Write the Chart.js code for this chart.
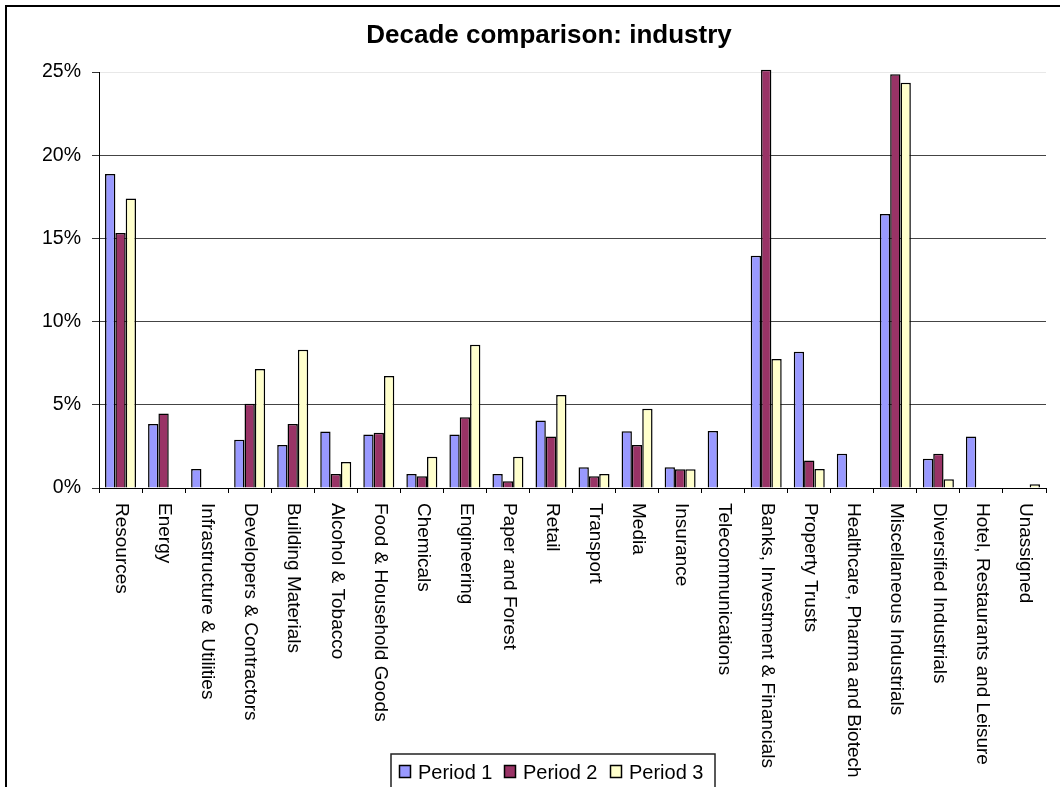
<!DOCTYPE html>
<html>
<head>
<meta charset="utf-8">
<title>Decade comparison: industry</title>
<script src="https://cdn.jsdelivr.net/npm/chart.js@4/dist/chart.umd.min.js"></script>
<style>
  body { margin: 0; background: #fff; }
  canvas { display: block; }
</style>
</head>
<body>
<canvas id="chart" width="1060" height="787"></canvas>
<script>
const TITLE = 'Decade comparison: industry'
const FONT = "'Liberation Sans', Arial, sans-serif"

const industries = [
  'Resources', 'Energy', 'Infrastructure & Utilities', 'Developers & Contractors',
  'Building Materials', 'Alcohol & Tobacco', 'Food & Household Goods', 'Chemicals',
  'Engineering', 'Paper and Forest', 'Retail', 'Transport', 'Media', 'Insurance',
  'Telecommunications', 'Banks, Investment & Financials', 'Property Trusts',
  'Healthcare, Pharma and Biotech', 'Miscellaneous Industrials',
  'Diversified Industrials', 'Hotel, Restaurants and Leisure', 'Unassigned'
]

// share of each industry, in percent
const period1 = [18.87, 3.85, 1.14, 2.90, 2.58, 3.40, 3.22, 0.84, 3.21, 0.84, 4.05,
  1.24, 3.41, 1.24, 3.43, 13.96, 8.19, 2.06, 16.47, 1.76, 3.10, null]
const period2 = [15.32, 4.47, null, 5.07, 3.85, 0.84, 3.32, 0.70, 4.25, 0.40, 3.10,
  0.70, 2.58, 1.12, null, 25.14, 1.66, null, 24.86, 2.06, null, null]
const period3 = [17.40, null, null, 7.15, 8.31, 1.56, 6.73, 1.88, 8.61, 1.88, 5.59,
  0.84, 4.77, 1.12, null, 7.75, 1.14, null, 24.36, 0.52, null, 0.22]

const seriesNames = ['Period 1', 'Period 2', 'Period 3']
const seriesColors = ['#9999ff', '#993366', '#ffffcc']
const yTicks = [0, 5, 10, 15, 20, 25]

function makeSet (i, values) {
  return {
    label: seriesNames[i],
    data: values,
    backgroundColor: seriesColors[i],
    borderColor: '#000',
    borderWidth: 1.5,
    borderSkipped: 'bottom',
    categoryPercentage: 0.72,
    barPercentage: 1,
    clip: false
  }
}

// frame, title, rotated category names and legend box
const decorations = {
  id: 'decorations',
  beforeDraw: chart => {
    const ctx = chart.ctx
    ctx.save()
    ctx.fillStyle = '#fff'
    ctx.fillRect(0, 0, chart.width, chart.height)
    ctx.restore()
  },
  afterDraw: chart => {
    const ctx = chart.ctx
    const xScale = chart.scales.x
    ctx.save()

    ctx.strokeStyle = '#000'
    ctx.lineWidth = 2
    ctx.strokeRect(6, 6, chart.width + 20, chart.height + 20)

    ctx.fillStyle = '#000'
    ctx.font = 'bold 26px ' + FONT
    ctx.textAlign = 'center'
    ctx.textBaseline = 'alphabetic'
    ctx.fillText(TITLE, 549, 43)

    ctx.font = '19px ' + FONT
    ctx.textAlign = 'left'
    ctx.textBaseline = 'middle'
    industries.forEach((name, i) => {
      const x = xScale.getPixelForValue(i)
      ctx.save()
      ctx.translate(x + 1, 503)
      ctx.rotate(Math.PI / 2)
      ctx.fillText(name, 0, 0)
      ctx.restore()
    })

    // legend
    const boxLeft = 391
    const boxTop = 754
    ctx.lineWidth = 1.5
    ctx.strokeStyle = '#222'
    ctx.strokeRect(boxLeft, boxTop, 324, 60)
    const itemX = [399, 504, 610]
    ctx.font = '20px ' + FONT
    ctx.textBaseline = 'alphabetic'
    chart.data.datasets.forEach((ds, i) => {
      ctx.fillStyle = ds.backgroundColor
      ctx.fillRect(itemX[i] + 0.5, 765.5, 11, 12)
      ctx.lineWidth = 1.5
      ctx.strokeStyle = '#000'
      ctx.strokeRect(itemX[i] + 0.5, 765.5, 11, 12)
      ctx.fillStyle = '#000'
      ctx.fillText(ds.label, itemX[i] + 19, 779)
    })

    ctx.restore()
  }
}

const chart = new Chart(document.getElementById('chart'), {
  type: 'bar',
  data: {
    labels: industries,
    datasets: [makeSet(0, period1), makeSet(1, period2), makeSet(2, period3)]
  },
  plugins: [decorations],
  options: {
    responsive: false,
    animation: false,
    layout: {
      padding: { top: 72, left: 0, right: 14, bottom: 294 }
    },
    plugins: {
      legend: { display: false },
      title: { display: false },
      tooltip: { enabled: false }
    },
    scales: {
      x: {
        offset: true,
        ticks: { display: false },
        grid: {
          offset: true,
          drawOnChartArea: false,
          drawTicks: true,
          tickLength: 5,
          tickColor: '#000'
        },
        border: { color: '#000', width: 1 },
        afterFit: scale => { scale.height = 5 }
      },
      y: {
        min: 0,
        max: 25,
        afterBuildTicks: scale => {
          scale.ticks = yTicks.map(v => ({ value: v }))
        },
        ticks: {
          padding: 11,
          color: '#000',
          font: { family: FONT, size: 19.5 },
          callback: v => v + '%'
        },
        grid: {
          color: c => (c.tick && c.tick.value === 25 ? '#e8e8e8' : '#444'),
          tickColor: '#333',
          tickLength: 7,
          lineWidth: 1
        },
        border: { color: '#000', width: 1 },
        afterFit: scale => { scale.width = 99 }
      }
    }
  }
})
</script>
</body>
</html>
